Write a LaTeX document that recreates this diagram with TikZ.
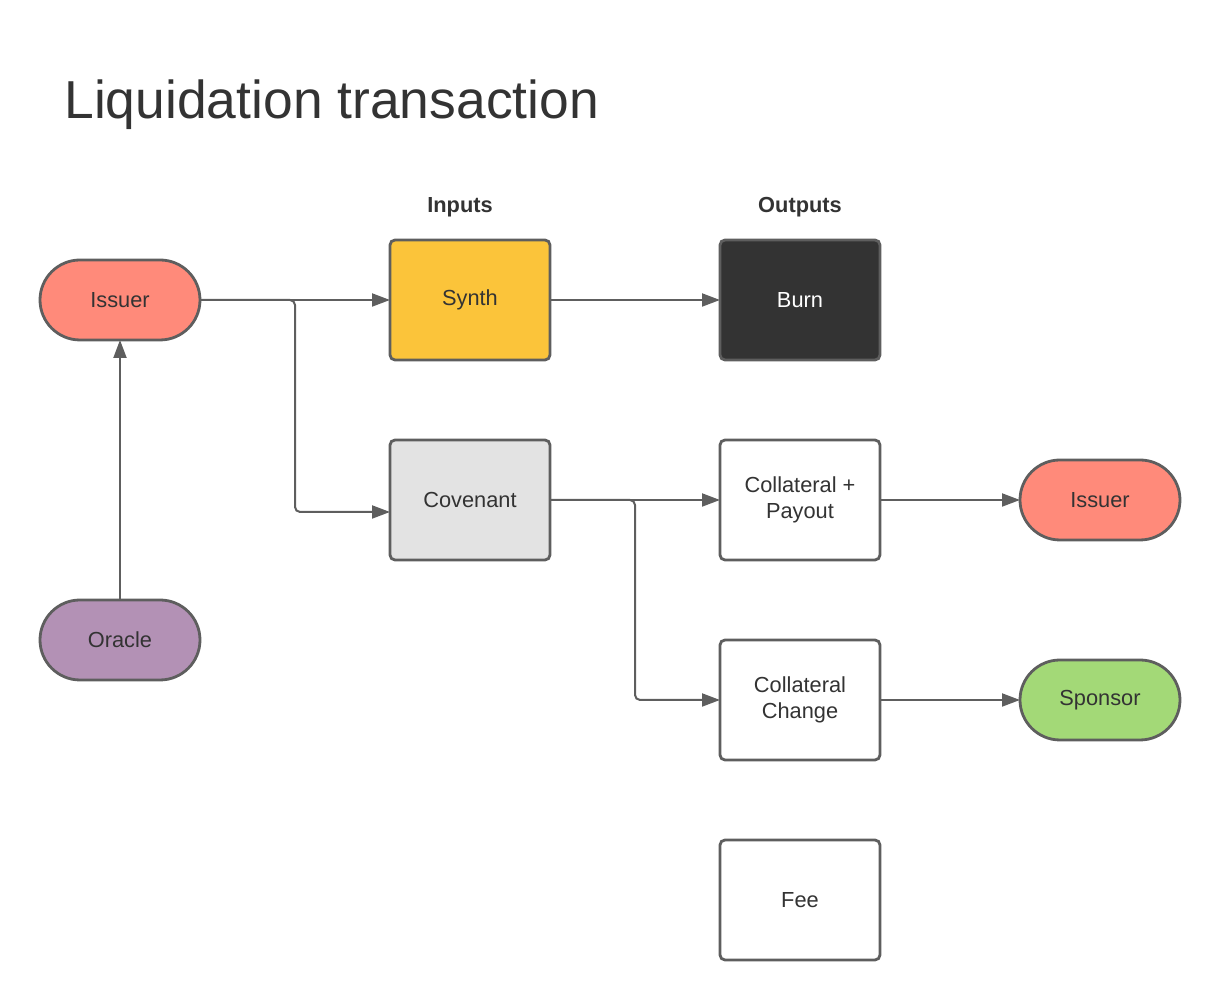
\documentclass[tikz,border=0pt]{standalone}
\usepackage{fontspec}
\setmainfont{Liberation Sans}
\usetikzlibrary{arrows.meta,positioning,calc}
\usepackage{xcolor}
\definecolor{edgegray}{HTML}{5E5E5E}
\definecolor{textgray}{HTML}{333333}
\definecolor{issuerred}{HTML}{FF8A7A}
\definecolor{oraclepurple}{HTML}{B391B5}
\definecolor{synthyellow}{HTML}{FBC43A}
\definecolor{burnblack}{HTML}{333333}
\definecolor{covgray}{HTML}{E3E3E3}
\definecolor{sponsorgreen}{HTML}{A3D977}

\begin{document}
\begin{tikzpicture}[node distance=0.8cm, >={Triangle[length=0.18cm,width=0.13cm]},
    box/.style={rectangle, draw=edgegray, line width=0.028cm, outer sep=0pt, rounded corners=0.05cm, minimum width=1.6cm, minimum height=1.2cm, align=center, text=textgray, font=\fontsize{6.2}{7.6}\selectfont},
    pill/.style={box, rounded corners=0.4cm, minimum height=0.8cm},
    link/.style={->, draw=edgegray, line width=0.02cm, rounded corners=0.05cm}]
    \useasboundingbox (0,0) rectangle (12.2,-10);

    \node[anchor=west, text=textgray, font=\fontsize{15.2}{18}\selectfont] (title) at (0.52,-1.05) {Liquidation transaction};

    \node[box, fill=synthyellow] (synth) at (4.7,-3.0) {Synth};
    \node[box, fill=burnblack, text=white, right=1.7cm of synth] (burn) {Burn};
    \node[box, fill=covgray, below=of synth] (covenant) {Covenant};
    \node[box, fill=white, below=of burn] (payout) {Collateral +\\Payout};
    \node[box, fill=white, below=of payout] (change) {Collateral\\Change};
    \node[box, fill=white, below=of change] (fee) {Fee};

    \node[pill, fill=issuerred, left=1.9cm of synth] (issuer) {Issuer};
    \node[pill, fill=oraclepurple, below=2.6cm of issuer] (oracle) {Oracle};
    \node[pill, fill=issuerred, right=1.4cm of payout] (issuerout) {Issuer};
    \node[pill, fill=sponsorgreen, right=1.4cm of change] (sponsor) {Sponsor};

    \node[text=textgray, font=\bfseries\fontsize{6.2}{7.6}\selectfont] (inputs) at (4.6,-2.07) {Inputs};
    \node[text=textgray, font=\bfseries\fontsize{6.2}{7.6}\selectfont] (outputs) at (8.0,-2.07) {Outputs};

    \draw[link] (issuer.east) -- (issuer.east -| synth.west);
    \draw[link] (issuer.east) -- ++(0.95,0) |- ([yshift=-0.12cm]covenant.west);
    \draw[link] (oracle) -- (issuer);
    \draw[link] (synth) -- (burn);
    \draw[link] (covenant) -- (payout);
    \draw[link] (covenant.east) -- ++(0.85,0) |- (change.west);
    \draw[link] (payout) -- (issuerout);
    \draw[link] (change) -- (sponsor);
\end{tikzpicture}
\end{document}
